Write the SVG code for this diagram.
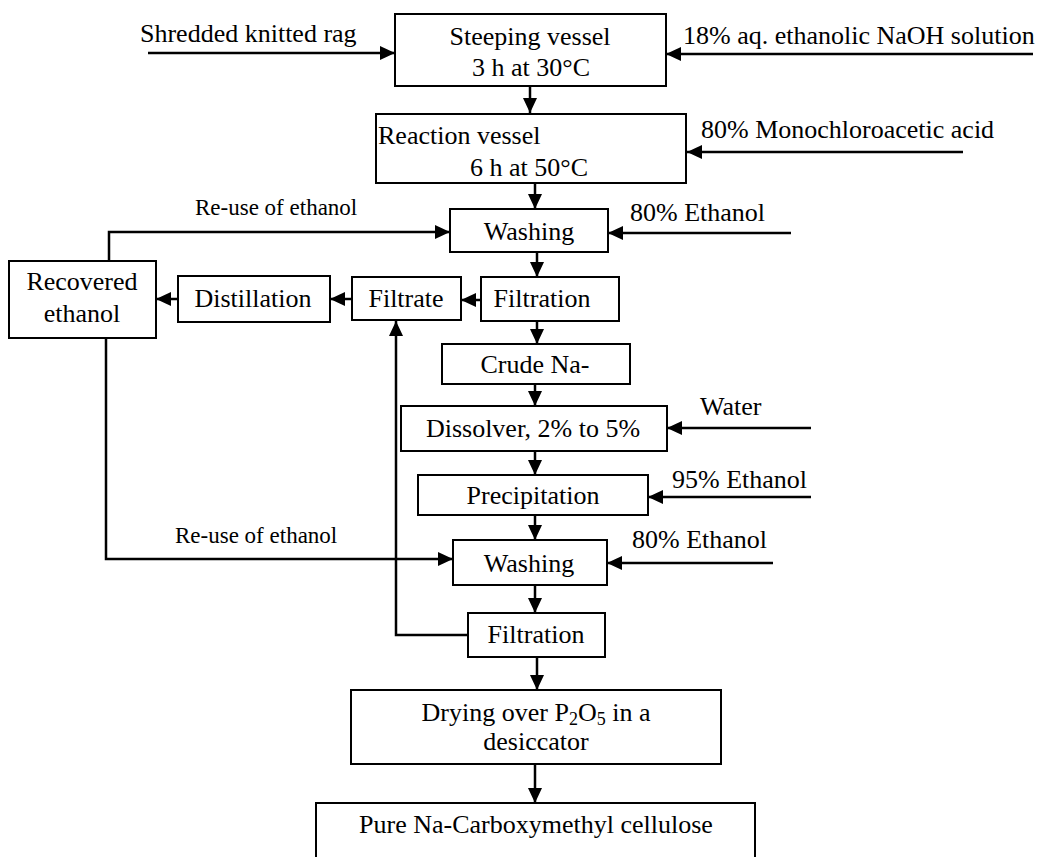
<svg xmlns="http://www.w3.org/2000/svg" width="1053" height="857" viewBox="0 0 1053 857">
<style>
text{font-family:"Liberation Serif","Times New Roman",serif;font-size:26px;fill:#000}
.c{text-anchor:middle}
.s{font-size:23px}
.box{fill:#fff;stroke:#000;stroke-width:2}
.ln{fill:none;stroke:#000;stroke-width:2.5;marker-end:url(#ah)}
.pl{fill:none;stroke:#000;stroke-width:2.5}
</style>
<defs>
<marker id="ah" markerUnits="userSpaceOnUse" markerWidth="16" markerHeight="14" refX="15" refY="7" orient="auto">
<path d="M0,0 L15,7 L0,14 z" fill="#000"/>
</marker>
</defs>
<rect width="1053" height="857" fill="#fff"/>
<g id="connectors">
<line class="ln" x1="148" y1="53" x2="395" y2="53"/>
<line class="ln" x1="1033" y1="54" x2="666" y2="54"/>
<line class="ln" x1="530" y1="86" x2="530" y2="113"/>
<line class="ln" x1="963" y1="152" x2="687" y2="152"/>
<line class="ln" x1="535" y1="183" x2="535" y2="209"/>
<line class="ln" x1="791" y1="233" x2="608" y2="233"/>
<polyline class="ln" points="109,262 109,232 450,232"/>
<line class="ln" x1="537" y1="252" x2="537" y2="277"/>
<line class="ln" x1="481" y1="300" x2="461" y2="300"/>
<line class="ln" x1="352" y1="299" x2="330" y2="299"/>
<line class="ln" x1="178" y1="299" x2="156" y2="299"/>
<line class="ln" x1="537" y1="321" x2="537" y2="344"/>
<line class="ln" x1="535" y1="384" x2="535" y2="406"/>
<line class="ln" x1="811" y1="428" x2="667" y2="428"/>
<line class="ln" x1="535" y1="451" x2="535" y2="475"/>
<line class="ln" x1="811" y1="497" x2="648" y2="497"/>
<line class="ln" x1="535" y1="515" x2="535" y2="540"/>
<polyline class="ln" points="106,339 106,559 453,559"/>
<line class="ln" x1="773" y1="563" x2="607" y2="563"/>
<line class="ln" x1="535" y1="585" x2="535" y2="613"/>
<polyline class="ln" points="468,635 396,635 396,321"/>
<line class="ln" x1="537" y1="657" x2="537" y2="690"/>
<line class="ln" x1="535" y1="764" x2="535" y2="803"/>
</g>
<g id="labels">
<text x="140" y="42">Shredded knitted rag</text>
<text x="683" y="44">18% aq. ethanolic NaOH solution</text>
<text x="701" y="138">80% Monochloroacetic acid</text>
<text x="630" y="221">80% Ethanol</text>
<text class="s" x="195" y="215">Re-use of ethanol</text>
<text x="700" y="415">Water</text>
<text x="672" y="488">95% Ethanol</text>
<text class="s" x="175" y="543">Re-use of ethanol</text>
<text x="632" y="548">80% Ethanol</text>
</g>
<g id="steeping">
<rect class="box" x="395" y="14" width="271" height="72"/>
<text class="c" x="530" y="45">Steeping vessel</text>
<text class="c" x="531" y="76">3 h at 30°C</text>
</g>
<g id="reaction">
<rect class="box" x="376" y="114" width="310" height="69"/>
<text x="378" y="144">Reaction vessel</text>
<text x="470" y="176">6 h at 50°C</text>
</g>
<g id="washing1">
<rect class="box" x="450" y="209" width="158" height="43"/>
<text class="c" x="529" y="240">Washing</text>
</g>
<g id="recovered">
<rect class="box" x="9" y="261" width="147" height="77"/>
<text class="c" x="82" y="290">Recovered</text>
<text class="c" x="82" y="322">ethanol</text>
</g>
<g id="distillation">
<rect class="box" x="178" y="276" width="152" height="46"/>
<text class="c" x="253" y="307">Distillation</text>
</g>
<g id="filtrate">
<rect class="box" x="352" y="277" width="109" height="43"/>
<text class="c" x="406" y="307">Filtrate</text>
</g>
<g id="filtration1">
<rect class="box" x="481" y="277" width="138" height="44"/>
<text class="c" x="542" y="307">Filtration</text>
</g>
<g id="crude">
<rect class="box" x="442" y="344" width="188" height="40"/>
<text class="c" x="535" y="373">Crude Na-</text>
</g>
<g id="dissolver">
<rect class="box" x="401" y="406" width="266" height="45"/>
<text class="c" x="533" y="437">Dissolver, 2% to 5%</text>
</g>
<g id="precipitation">
<rect class="box" x="418" y="475" width="230" height="40"/>
<text class="c" x="533" y="504">Precipitation</text>
</g>
<g id="washing2">
<rect class="box" x="453" y="540" width="154" height="45"/>
<text class="c" x="529" y="572">Washing</text>
</g>
<g id="filtration2">
<rect class="box" x="468" y="613" width="137" height="44"/>
<text class="c" x="536" y="643">Filtration</text>
</g>
<g id="drying">
<rect class="box" x="351" y="690" width="370" height="74"/>
<text class="c" x="536" y="721">Drying over P<tspan font-size="18" dy="4">2</tspan><tspan dy="-4">O</tspan><tspan font-size="18" dy="4">5</tspan><tspan dy="-4"> in a</tspan></text>
<text class="c" x="536" y="750">desiccator</text>
</g>
<g id="pure">
<rect class="box" x="316" y="803" width="439" height="90"/>
<text class="c" x="536" y="833">Pure Na-Carboxymethyl cellulose</text>
</g>
</svg>
